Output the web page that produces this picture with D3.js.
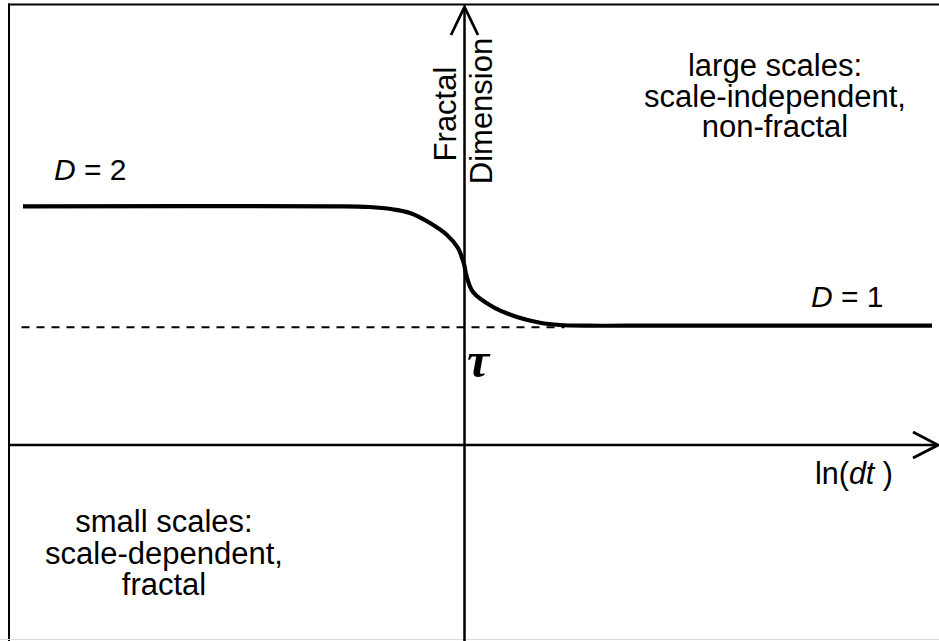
<!DOCTYPE html>
<html>
<head>
<meta charset="utf-8">
<script src="https://cdn.jsdelivr.net/npm/d3@7"></script>
<style>
  html, body { margin: 0; padding: 0; background: #fff; }
  svg { display: block; }
  text { font-family: "Liberation Sans", Arial, sans-serif; fill: #000; }
</style>
</head>
<body>
<svg id="chart" width="939" height="641"></svg>
<script>
// ---- data (x = ln(dt), relative to tau; y = fractal dimension D) ----
const curveX = [-4.415, -1.3, -0.95, -0.72, -0.545, -0.345, -0.175, -0.065, -0.018, 0, 0.015, 0.085, 0.285, 0.525, 0.755, 0.955, 1.25, 1.6, 4.675];
const curveD = [2.0, 2.0, 1.994, 1.975, 1.944, 1.860, 1.760, 1.651, 1.551, 1.501, 1.434, 1.282, 1.157, 1.073, 1.025, 1.006, 1.0, 1.0, 1.0];
const dashedLevel = [0.987];
const dashedX = [-4.43, 1.0];
const levelLabels = ["D = 2", "D = 1"];
const regionTop = ["large scales:", "scale-independent,", "non-fractal"];
const regionBottom = ["small scales:", "scale-dependent,", "fractal"];
const yAxisTitle = ["Fractal", "Dimension"];

const svg = d3.select("#chart");
const W = 939, H = 641;

const x = d3.scaleLinear().domain([-4.555, 4.745]).range([9, 939]);
const y = d3.scaleLinear().domain([0, 2]).range([445.1, 206.3]);

// frame (top and left edges)
svg.append("line").attr("x1", 8).attr("x2", W).attr("y1", 4.5).attr("y2", 4.5)
  .attr("stroke", "#000").attr("stroke-width", 2);
svg.append("line").attr("x1", 9).attr("x2", 9).attr("y1", 3.5).attr("y2", H)
  .attr("stroke", "#000").attr("stroke-width", 2);
svg.append("line").attr("x1", 0).attr("x2", W).attr("y1", 639.5).attr("y2", 639.5)
  .attr("stroke", "#dcdcdc").attr("stroke-width", 1);

// dashed reference line at D ~ 1
svg.append("line")
  .attr("x1", x(dashedX[0])).attr("x2", x(dashedX[1]))
  .attr("y1", y(dashedLevel[0])).attr("y2", y(dashedLevel[0]))
  .attr("stroke", "#000").attr("stroke-width", 2).attr("stroke-dasharray", "8,7");

// axes
const x0 = x(0), y0 = y(0);
svg.append("line").attr("x1", x0).attr("x2", x0).attr("y1", H).attr("y2", 7)
  .attr("stroke", "#000").attr("stroke-width", 2.5);
svg.append("line").attr("x1", 9).attr("x2", 937).attr("y1", y0).attr("y2", y0)
  .attr("stroke", "#000").attr("stroke-width", 2.5);
// arrowheads
svg.append("path")
  .attr("d", `M${x0 - 13.5},35 L${x0},7 L${x0 + 13.5},35`)
  .attr("fill", "none").attr("stroke", "#000").attr("stroke-width", 2.8);
svg.append("path")
  .attr("d", `M913,${y0 - 13} L938,${y0} L913,${y0 + 13}`)
  .attr("fill", "none").attr("stroke", "#000").attr("stroke-width", 2.8);

// curve
const pts = curveX.map((v, i) => [v, curveD[i]]);
const line = d3.line().x(d => x(d[0])).y(d => y(d[1])).curve(d3.curveCatmullRom.alpha(0.5));
svg.append("path").datum(pts).attr("d", line)
  .attr("fill", "none").attr("stroke", "#000").attr("stroke-width", 4.2)
  .attr("stroke-linecap", "butt");

// level labels
function levelLabel(tx, ty, str) {
  const t = svg.append("text").attr("x", tx).attr("y", ty).attr("font-size", 30);
  const parts = str.split(" ");
  t.append("tspan").attr("font-style", "italic").text(parts[0]);
  t.append("tspan").text(" " + parts.slice(1).join(" "));
}
levelLabel(54, 180, levelLabels[0]);
levelLabel(811, 307, levelLabels[1]);

// x-axis title ln(dt )
const xt = svg.append("text").attr("x", 815).attr("y", 484).attr("font-size", 30.5);
xt.append("tspan").text("ln(");
xt.append("tspan").attr("font-style", "italic").text("dt");
xt.append("tspan").text(" )");

// tau
svg.append("text").attr("x", 467).attr("y", 377)
  .style("font-family", "'Liberation Serif', 'Times New Roman', serif")
  .attr("font-size", 50).attr("font-weight", "bold").attr("font-style", "italic")
  .text("τ");

// y-axis title (rotated)
svg.append("text")
  .attr("transform", `translate(456,114) rotate(-90)`)
  .attr("text-anchor", "middle").attr("font-size", 31)
  .text(yAxisTitle[0]);
svg.append("text")
  .attr("transform", `translate(492,111) rotate(-90)`)
  .attr("text-anchor", "middle").attr("font-size", 31)
  .text(yAxisTitle[1]);

// region descriptions (multi-line blocks)
function block(cx, top, lines, lh) {
  const t = svg.append("text").attr("x", cx).attr("y", top)
    .attr("text-anchor", "middle").attr("font-size", 31);
  lines.forEach((s, i) => {
    t.append("tspan").attr("x", cx).attr("dy", i === 0 ? 0 : lh).text(s);
  });
}
block(775, 76, regionTop, 30.5);
block(164, 532, regionBottom, 31.5);
</script>
</body>
</html>
